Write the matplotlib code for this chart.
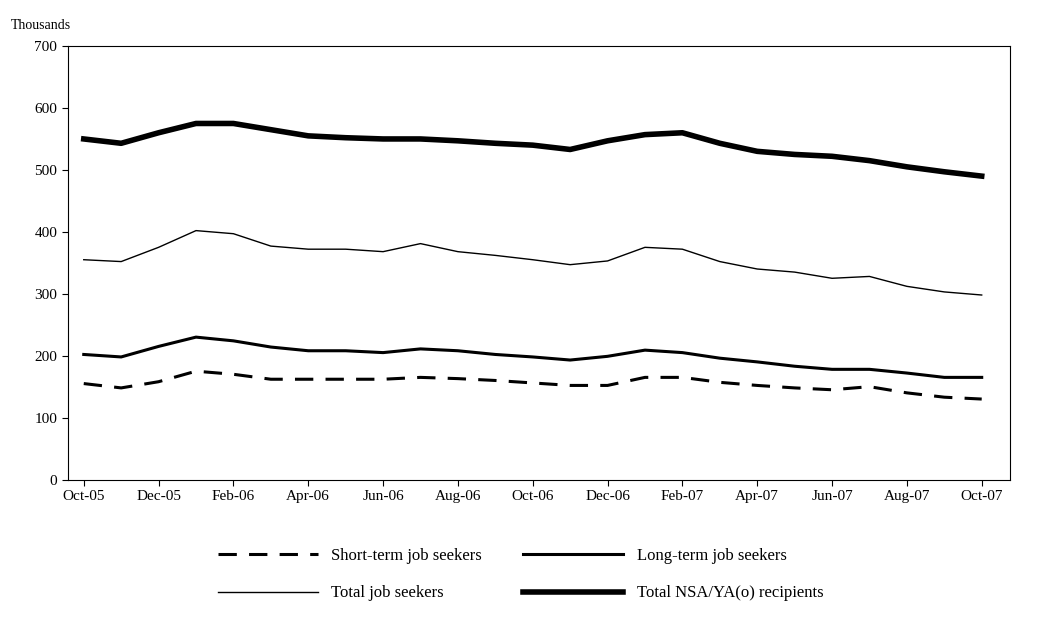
import matplotlib.pyplot as plt
import numpy as np

months = ['Oct-05', 'Nov-05', 'Dec-05', 'Jan-06', 'Feb-06', 'Mar-06', 'Apr-06', 'May-06',
          'Jun-06', 'Jul-06', 'Aug-06', 'Sep-06', 'Oct-06', 'Nov-06', 'Dec-06', 'Jan-07',
          'Feb-07', 'Mar-07', 'Apr-07', 'May-07', 'Jun-07', 'Jul-07', 'Aug-07', 'Sep-07', 'Oct-07']
total_nsa = [550, 543, 560, 575, 575, 565, 555, 552, 550, 550, 547, 543, 540, 533, 547, 557,
             560, 543, 530, 525, 522, 515, 505, 497, 490]
total_js = [355, 352, 375, 402, 397, 377, 372, 372, 368, 381, 368, 362, 355, 347, 353, 375,
            372, 352, 340, 335, 325, 328, 312, 303, 298]
long_term = [202, 198, 215, 230, 224, 214, 208, 208, 205, 211, 208, 202, 198, 193, 199, 209,
             205, 196, 190, 183, 178, 178, 172, 165, 165]
short_term = [155, 148, 158, 175, 170, 162, 162, 162, 162, 165, 163, 160, 156, 152, 152, 165,
              165, 157, 152, 148, 145, 150, 140, 133, 130]

plt.rcParams['font.family'] = ['Liberation Serif', 'DejaVu Serif']

fig = plt.figure(figsize=(10.41, 6.31), dpi=100)
ax = fig.add_axes([0.065, 0.24, 0.905, 0.687])
x = np.arange(len(months))

h1, = ax.plot(x, short_term, color='black', lw=2.2, ls=(0, (6, 4)), label='Short-term job seekers')
h2, = ax.plot(x, long_term, color='black', lw=2.2, label='Long-term job seekers')
h3, = ax.plot(x, total_js, color='black', lw=1.0, label='Total job seekers')
h4, = ax.plot(x, total_nsa, color='black', lw=4.0, label='Total NSA/YA(o) recipients')

ax.set_xlim(-0.43, 24.75)
ax.set_ylim(0, 700)
ax.set_yticks(range(0, 701, 100))
ax.set_xticks(x[::2])
ax.set_xticklabels(months[::2])
ax.tick_params(labelsize=11, direction='out', length=4)
ax.text(-0.06, 1.04, 'Thousands', transform=ax.transAxes, fontsize=10)

fig.legend([h1, h3, h2, h4], [h.get_label() for h in (h1, h3, h2, h4)],
           loc='lower center', bbox_to_anchor=(0.5, 0.023), ncol=2, frameon=False,
           fontsize=12, handlelength=6, columnspacing=2.5, labelspacing=1.3)
fig.savefig('out.png', dpi=100)
